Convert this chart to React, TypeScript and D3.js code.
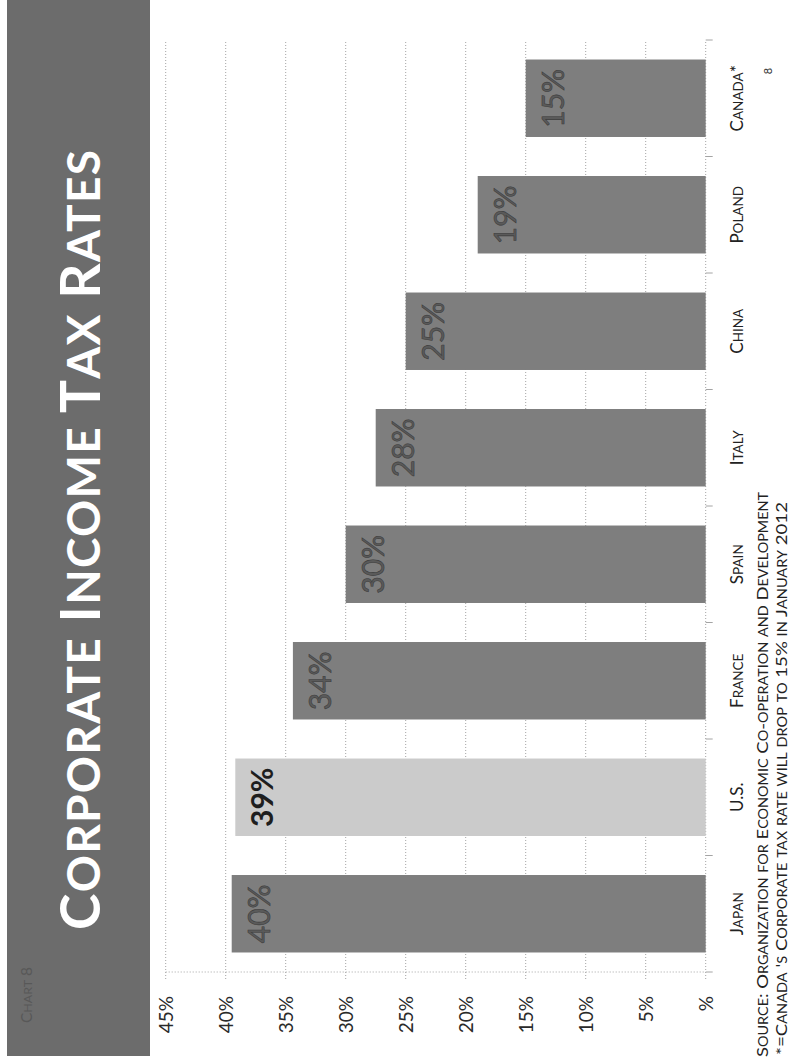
import React from 'react';
import * as d3 from 'd3';

const categories = ['Japan', 'U.S.', 'France', 'Spain', 'Italy', 'China', 'Poland', 'Canada*'];
const rates = [39.5, 39.2, 34.4, 30.0, 27.5, 25.0, 19.0, 15.0];
const rateLabels = ['40%', '39%', '34%', '30%', '28%', '25%', '19%', '15%'];
const highlighted = ['U.S.'];
const tickValues = [0, 5, 10, 15, 20, 25, 30, 35, 40, 45];
const tickLabels = ['%', '5%', '10%', '15%', '20%', '25%', '30%', '35%', '40%', '45%'];
const titleText = 'Corporate Income Tax Rates';
const chartTag = 'Chart 8';
const sourceText = 'Source: Organization for Economic Co-operation and Development';
const noteText = "*=Canada 's Corporate tax rate will drop to 15% in January 2012";
const pageNumber = '8';

// landscape slide dimensions (the picture is this slide rotated a quarter turn)
const W = 1059;
const H = 792;
const FONT = 'Lato, "Open Sans", sans-serif';

function caps(text: string, big: number, small: number) {
  const runs: { t: string; size: number }[] = [];
  for (const ch of text) {
    const isLower = ch !== ch.toUpperCase();
    const size = isLower ? small : big;
    const last = runs[runs.length - 1];
    if (last && last.size === size) last.t += ch.toUpperCase();
    else runs.push({ t: ch.toUpperCase(), size });
  }
  return runs.map((r, i) => (
    <tspan key={i} fontSize={r.size}>
      {r.t}
    </tspan>
  ));
}

export default function App() {
  const x = d3
    .scaleBand<string>()
    .domain(categories)
    .range([87, 1019])
    .paddingInner(0.335)
    .paddingOuter(0.1675);
  const y = d3.scaleLinear().domain([0, 45]).range([705.7, 165.7]);
  const step = x.step();
  const [x0, x1] = x.range();
  const grid = '#a4a4a4';

  return (
    <svg
      width={792}
      height={1059}
      style={{ position: 'absolute', left: 0, top: 0, background: '#fff' }}
      fontFamily={FONT}
    >
      <g transform={`translate(0,${W}) rotate(-90)`}>
        <rect x={0} y={0} width={W} height={H} fill="#fff" />
        {/* title band */}
        <rect x={3} y={7} width={W - 3} height={143} fill="#6c6c6c" />
        <text
          x={36}
          y={32}
          fill="#585858"
          textLength={56}
          lengthAdjust="spacingAndGlyphs"
        >
          {caps(chartTag, 15, 12)}
        </text>
        <text
          x={519}
          y={100}
          textAnchor="middle"
          fill="#fff"
          fontWeight="bold"
          textLength={780}
          lengthAdjust="spacing"
        >
          {caps(titleText, 55, 46)}
        </text>

        {/* gridlines */}
        {tickValues.map((v) => (
          <line
            key={`g${v}`}
            x1={x0 - 7}
            x2={x1}
            y1={y(v)}
            y2={y(v)}
            stroke={grid}
            strokeWidth={1}
            strokeDasharray="1 2"
          />
        ))}
        <line
          x1={x0}
          x2={x0}
          y1={y(45)}
          y2={y(0)}
          stroke={grid}
          strokeWidth={1}
          strokeDasharray="1 2"
        />
        {d3.range(categories.length + 1).map((i) => (
          <line
            key={`t${i}`}
            x1={x0 + i * step}
            x2={x0 + i * step}
            y1={y(0)}
            y2={y(0) + 7}
            stroke={grid}
            strokeWidth={1}
          />
        ))}

        {/* value tick labels */}
        {tickValues.map((v, i) => (
          <text
            key={`l${v}`}
            x={63}
            y={y(v)}
            dy="0.36em"
            textAnchor="end"
            fontSize={19}
            fill="#2a2a2a"
          >
            {tickLabels[i]}
          </text>
        ))}

        {/* bars */}
        {categories.map((c, i) => {
          const hi = highlighted.includes(c);
          return (
            <rect
              key={`b${c}`}
              x={x(c)}
              y={y(rates[i])}
              width={x.bandwidth()}
              height={y(0) - y(rates[i])}
              fill={hi ? '#cbcbcb' : '#7e7e7e'}
            />
          );
        })}
        {categories.map((c, i) => {
          const hi = highlighted.includes(c);
          return (
            <text
              key={`v${c}`}
              x={(x(c) as number) + x.bandwidth() / 2}
              y={y(rates[i]) + 38}
              textAnchor="middle"
              fontSize={30}
              fontWeight={hi ? 'bold' : 'normal'}
              fill={hi ? '#1e1e1e' : '#5a5a5a'}
              stroke={hi ? 'none' : '#3c3c3c'}
              strokeWidth={hi ? 0 : 0.6}
            >
              {rateLabels[i]}
            </text>
          );
        })}

        {/* category labels */}
        {categories.map((c) => (
          <text
            key={`c${c}`}
            x={(x(c) as number) + x.bandwidth() / 2}
            y={743}
            textAnchor="middle"
            fill="#222"
          >
            {caps(c, 17, 13.5)}
          </text>
        ))}

        {/* source and note */}
        <text x={2} y={768} fill="#222" textLength={565} lengthAdjust="spacingAndGlyphs">
          {caps(sourceText, 16, 12.5)}
        </text>
        <text x={4} y={787} fill="#222" textLength={553} lengthAdjust="spacingAndGlyphs">
          {caps(noteText, 16, 12.5)}
        </text>
        <text x={988} y={772} textAnchor="middle" fontSize={11} fill="#333">
          {pageNumber}
        </text>
      </g>
    </svg>
  );
}
